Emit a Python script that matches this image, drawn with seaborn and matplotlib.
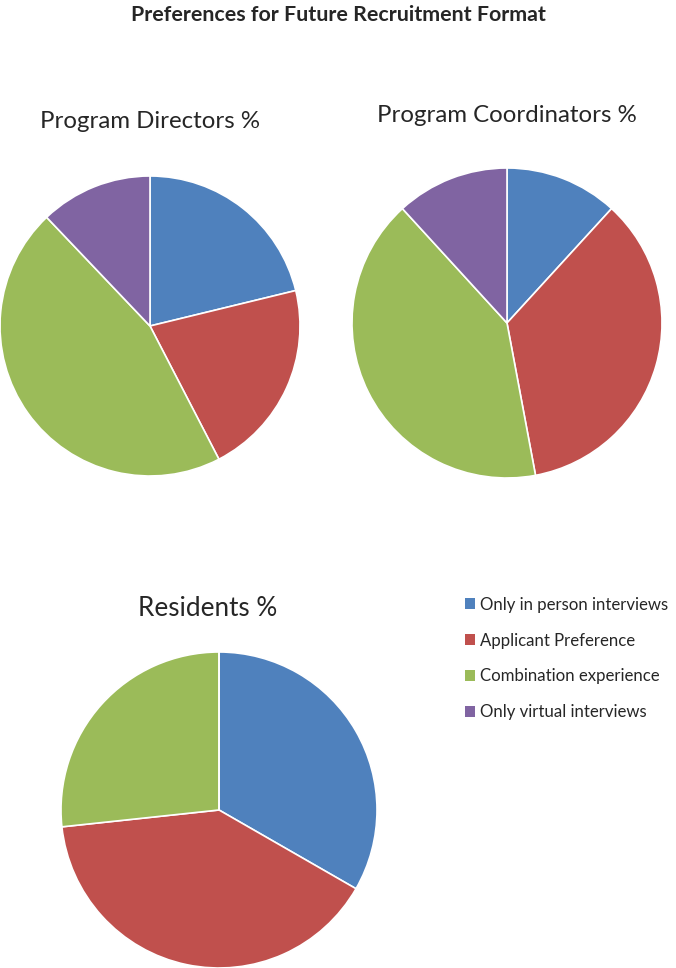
import matplotlib
matplotlib.use("Agg")
import matplotlib.pyplot as plt
from matplotlib.patches import Patch
import seaborn as sns

# shares (percent)
categories = ["Only in person interviews", "Applicant Preference",
              "Combination experience", "Only virtual interviews"]
directors = [21.2, 21.2, 45.5, 12.1]
coordinators = [11.8, 35.3, 41.2, 11.8]
residents = [33.3, 40.0, 26.7, 0.0]

colors = ["#4F81BD", "#C0504D", "#9BBB59", "#8064A2"]

sns.set_theme(style="white")
plt.rcParams["font.family"] = ["Lato", "DejaVu Sans"]

W, H = 676, 968
fig = plt.figure(figsize=(W / 100, H / 100), dpi=100)
fig.patch.set_facecolor("white")


def pie_axes(cx, cy, r):
    # pixel centre/radius -> figure-fraction axes
    return fig.add_axes([(cx - r) / W, (H - cy - r) / H, 2 * r / W, 2 * r / H])


def draw_pie(ax, values, title, tx, ty, size):
    ax.pie(values, colors=colors, startangle=90, counterclock=False,
           wedgeprops=dict(edgecolor="white", linewidth=1.2))
    ax.set_xlim(-1, 1)
    ax.set_ylim(-1, 1)
    ax.set_aspect("equal")
    ax.axis("off")
    fig.text(tx / W, 1 - ty / H, title, ha="center", va="center", fontsize=size)


draw_pie(pie_axes(150, 326, 150), directors, "Program Directors %", 150, 122, 17.3)
draw_pie(pie_axes(507, 323, 155), coordinators, "Program Coordinators %", 507, 116, 17.3)
draw_pie(pie_axes(219, 810, 158), residents, "Residents %", 208, 609, 18.8)

fig.text(338 / W, 1 - 15 / H, "Preferences for Future Recruitment Format",
         ha="center", va="center", fontsize=15.4, fontweight="bold")

handles = [Patch(facecolor=c, edgecolor="none") for c in colors]
fig.legend(handles, categories, loc="upper left",
           bbox_to_anchor=(463 / W, 1 - 595 / H), frameon=False,
           fontsize=12.1, handlelength=0.62, handleheight=0.62,
           handletextpad=0.3, labelspacing=1.18, borderaxespad=0,
           borderpad=0.1)

fig.savefig("out.png", dpi=100)
